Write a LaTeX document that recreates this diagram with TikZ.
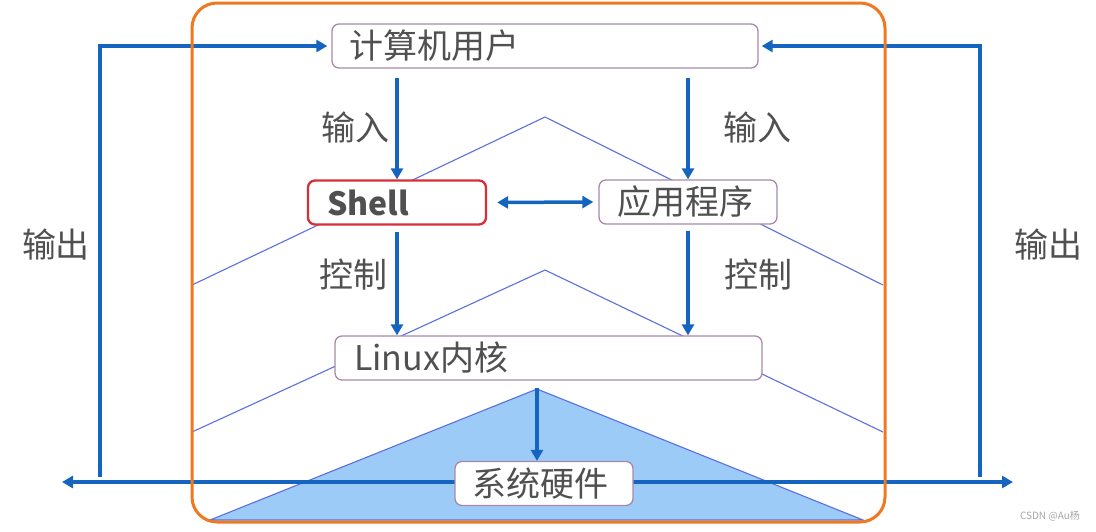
\documentclass[tikz,border=0pt]{standalone}
\usepackage{fontspec}
\setmainfont{Noto Sans CJK SC}
\usetikzlibrary{arrows.meta}
\definecolor{orangeB}{HTML}{F07820}
\definecolor{arrowB}{HTML}{1565C0}
\definecolor{thinB}{HTML}{5A6FE0}
\definecolor{triB}{HTML}{9CCBF8}
\definecolor{boxB}{HTML}{A88AA8}
\definecolor{redB}{HTML}{D62F37}
\definecolor{txt}{HTML}{505050}
\begin{document}
\begin{tikzpicture}[x=1pt,y=-1pt,
  box/.style={draw=boxB, line width=1.3pt, fill=white, rounded corners=7pt,
    inner ysep=0pt, text=txt, font=\fontsize{34}{38}\selectfont, align=left,
    minimum height=44pt},
  lbl/.style={text=txt, font=\fontsize{34}{38}\selectfont, inner sep=0pt},
  thin/.style={draw=thinB, line width=1.1pt},
  arr/.style={draw=arrowB, line width=3.5pt, -{Triangle[length=11pt,width=12pt]}},
  arrl/.style={draw=arrowB, line width=3.5pt}
]
\useasboundingbox (0,0) rectangle (1096,531);
% background chevrons and triangle
\coordinate (p1l) at (192,285); \coordinate (p1) at (545,117); \coordinate (p1r) at (883,285);
\coordinate (p2l) at (192,432); \coordinate (p2) at (545,270); \coordinate (p2r) at (883,432);
\coordinate (tl) at (210,520); \coordinate (tapex) at (537,389); \coordinate (tr) at (863,520);
\draw[thin] (p1l) -- (p1) -- (p1r);
\draw[thin] (p2l) -- (p2) -- (p2r);
\draw[thin, fill=triB] (tl) -- (tapex) -- (tr) -- cycle;
% bottom horizontal double arrow
\coordinate (hl) at (62,482); \coordinate (hr) at (1013,482);
\draw[draw=arrowB, line width=3.5pt, {Triangle[length=11pt,width=12pt]}-{Triangle[length=11pt,width=12pt]}] (hl) -- (hr);
% nodes
\node[box, inner xsep=17pt, text width=392pt] (user) at (545,46) {计算机用户};
\node[box, draw=redB, line width=2.3pt, inner xsep=19pt, text width=140pt, font=\fontsize{32}{36}\selectfont\bfseries] (shell) at (397,202.5) {Shell};
\node[box, inner xsep=18pt, text width=142pt] (app) at (688,202) {应用程序};
\node[box, inner xsep=19pt, text width=389pt] (linux) at (548.5,358) {Linux内核};
\node[box, inner xsep=17pt, text width=144pt] (hw) at (544,483.5) {系统硬件};
% labels
\node[lbl] (in1) at (355,128) {输入};
\node[lbl] (in2) at (757,128) {输入};
\node[lbl] (ct1) at (353,275) {控制};
\node[lbl] (ct2) at (758,275) {控制};
\node[lbl] (out1) at (56,245) {输出};
\node[lbl] (out2) at (1048,245) {输出};
% arrows
\draw[arr, shorten <=9pt] (user.south -| shell) -- (shell.north);
\draw[arr, shorten <=9pt] (user.south -| app) -- (app.north);
\draw[arr, shorten <=6pt] (shell.south) -- (linux.north -| shell);
\draw[arr, shorten <=6pt] (app.south) -- (linux.north -| app);
\draw[draw=arrowB, line width=3.5pt, {Triangle[length=11pt,width=12pt]}-{Triangle[length=11pt,width=12pt]}, shorten <=10pt, shorten >=5pt] (shell.east) -- (app.west);
\draw[arr, shorten <=7pt] (linux.south -| tapex) -- (hw.north -| tapex);
% output loops
\coordinate (lb) at (100,477); \coordinate (lt) at (100,46);
\coordinate (rb) at (980,477); \coordinate (rt) at (980,46);
\draw[arr, shorten >=4pt] (lb) -- (lt) -- (user.west);
\draw[arr, shorten >=3pt] (rb) -- (rt) -- (user.east);
% orange frame
\draw[draw=orangeB, line width=3pt, rounded corners=25pt] (192,3) rectangle (885,522);
% watermark
\node[text=gray!70, font=\fontsize{10}{12}\selectfont, inner sep=0pt] (wm) at (1050,516) {CSDN @Au杨};
\end{tikzpicture}
\end{document}
